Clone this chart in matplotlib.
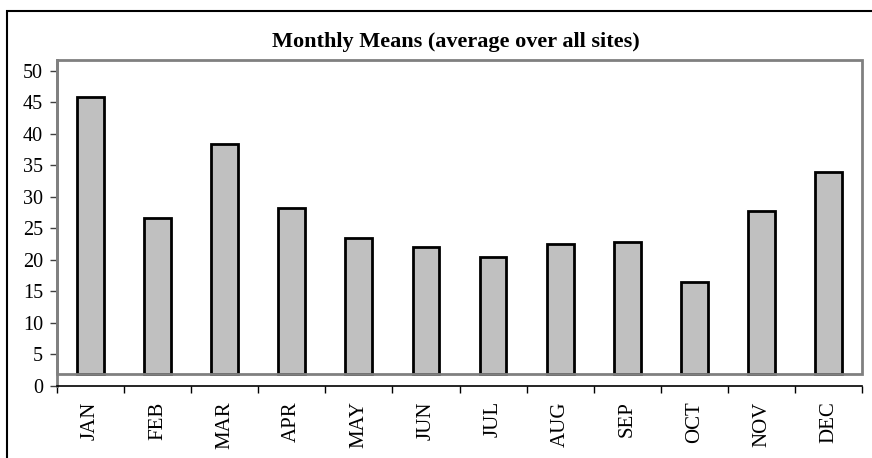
import matplotlib
matplotlib.use("Agg")
import matplotlib.pyplot as plt
import numpy as np
from matplotlib.patches import Rectangle

months = ["JAN", "FEB", "MAR", "APR", "MAY", "JUN", "JUL", "AUG", "SEP", "OCT", "NOV", "DEC"]
means = [45.9, 26.7, 38.3, 28.3, 23.4, 22.0, 20.4, 22.5, 22.9, 16.5, 27.8, 33.9]
yticks = [0, 5, 10, 15, 20, 25, 30, 35, 40, 45, 50]
title = "Monthly Means (average over all sites)"

floor_val = 1.9
top_val = 51.7

plt.rcParams['font.family'] = ['Liberation Serif', 'DejaVu Serif']

W, H = 872, 458
fig = plt.figure(figsize=(W / 100, H / 100), dpi=100)
ax = fig.add_axes([57 / W, 1 - 386 / H, (862 - 57) / W, (386 - 60) / H])

x = np.arange(len(months))
ax.bar(x, np.array(means) - floor_val, bottom=floor_val, width=0.4,
       color="#c0c0c0", edgecolor="black", linewidth=2, zorder=3)

ax.set_xlim(-0.5, len(months) - 0.5)
ax.set_ylim(0, top_val)

frame = Rectangle((-0.5, floor_val), len(months), top_val - floor_val,
                  fill=False, edgecolor="#808080", linewidth=2, zorder=4, clip_on=False)
ax.add_patch(frame)

for s in ["top", "right"]:
    ax.spines[s].set_visible(False)
ax.spines["left"].set_color("#808080")
ax.spines["left"].set_linewidth(2)
ax.spines["bottom"].set_color("black")
ax.spines["bottom"].set_linewidth(1.2)

ax.set_yticks(yticks)
ax.set_yticklabels([str(v) for v in yticks])
ax.tick_params(axis="y", direction="out", length=5, width=1, color="#404040",
               labelsize=14.5, pad=5)

ax.set_xticks(np.arange(len(months) + 1) - 0.5)
ax.set_xticklabels([])
ax.tick_params(axis="x", which="major", direction="out", length=5, width=1, color="black")
ax.set_xticks(x, minor=True)
ax.set_xticklabels(months, minor=True, rotation=90, fontsize=15)
ax.tick_params(axis="x", which="minor", length=0, pad=11)

fig.text(456 / W, 1 - 42 / H, title, ha="center", va="center",
         fontsize=16, fontweight="bold")

border = Rectangle((7 / W, -0.01), 1.02, 1 - 11 / H + 0.01, transform=fig.transFigure,
                   fill=False, edgecolor="black", linewidth=1.5, clip_on=False)
fig.patches.append(border)

fig.savefig("out.png", dpi=100)
